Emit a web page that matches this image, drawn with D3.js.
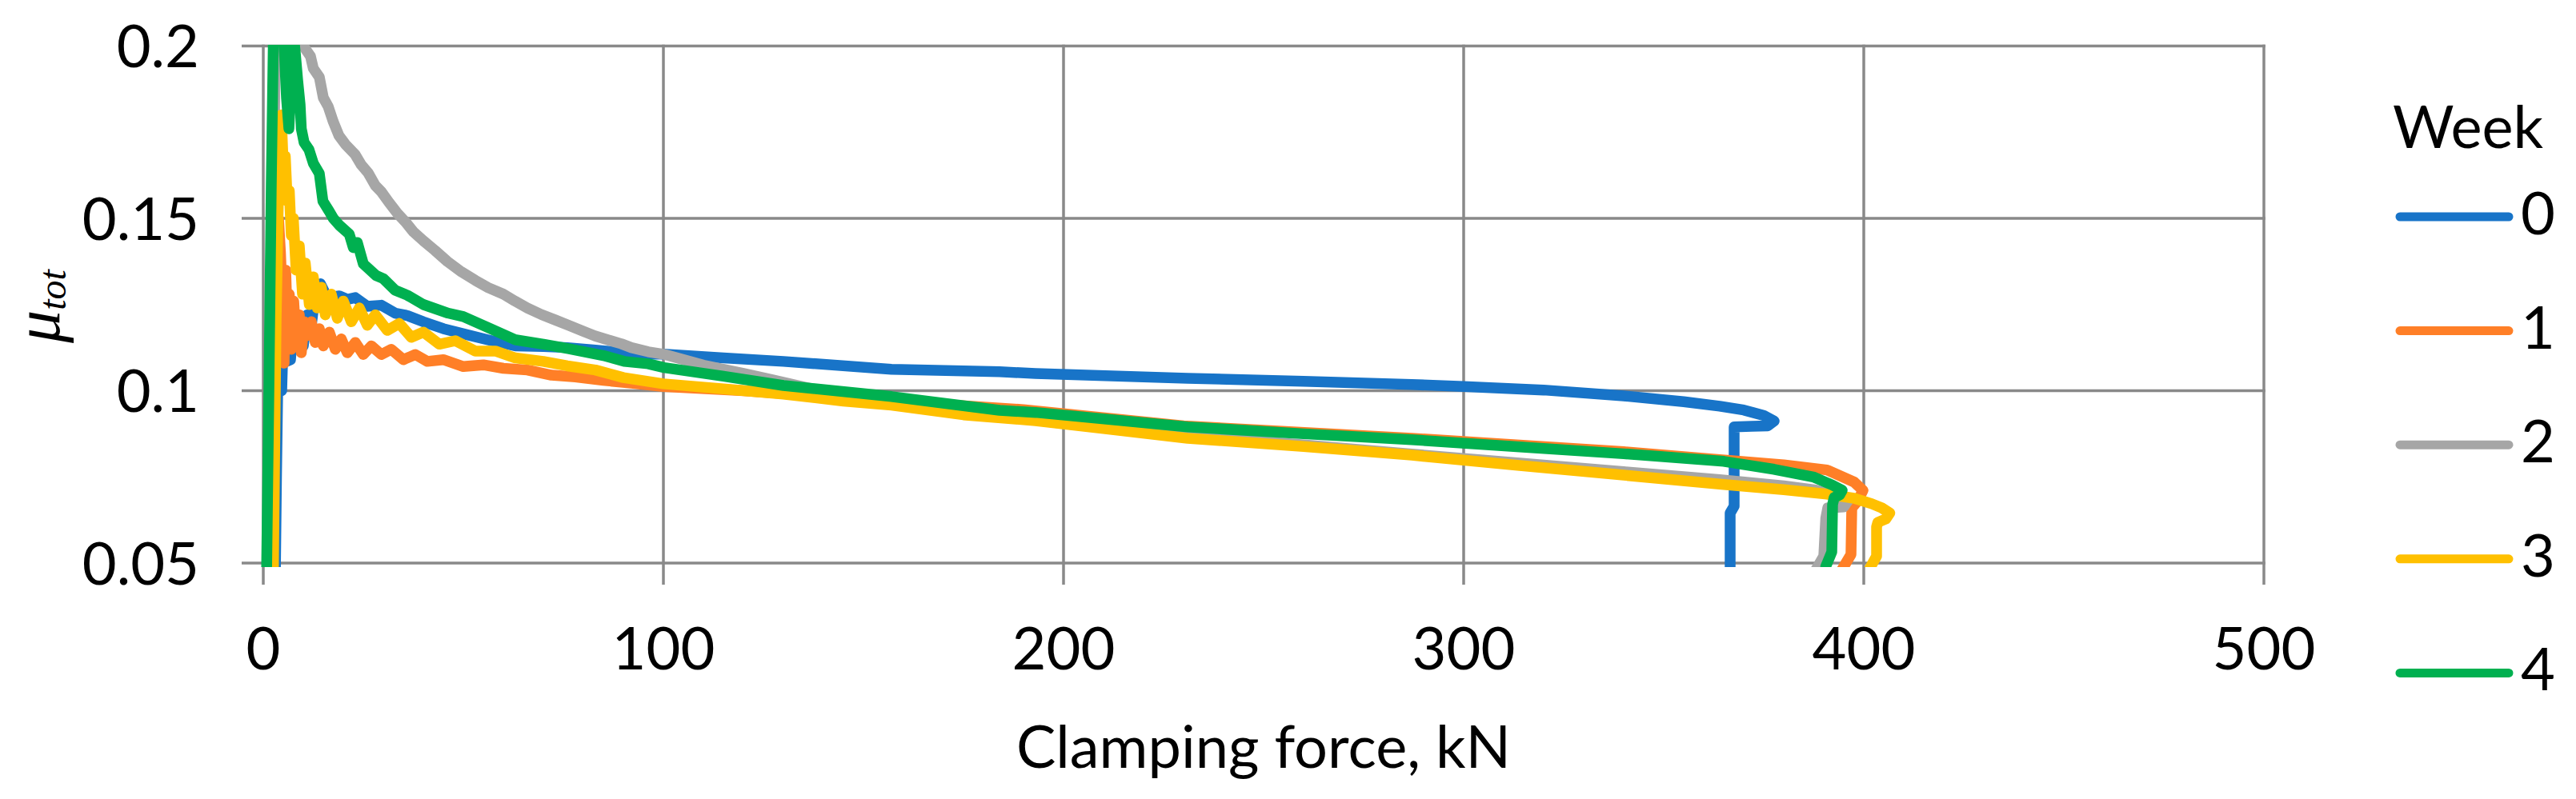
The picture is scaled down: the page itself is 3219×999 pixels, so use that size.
<!DOCTYPE html>
<html>
<head>
<meta charset="utf-8">
<script src="https://cdn.jsdelivr.net/npm/d3@7"></script>
<style>
  html, body { margin: 0; padding: 0; background: #ffffff; }
  svg { display: block; }
  text { font-family: Lato, "Open Sans", "Liberation Sans", sans-serif; fill: #000; }
</style>
</head>
<body>
<svg id="chart" width="3219" height="999"></svg>
<script>
// ---------------- data ----------------
const weekNames = ["0", "1", "2", "3", "4"];
const xTicks = [0, 100, 200, 300, 400, 500];
const yTicks = [0.05, 0.1, 0.15, 0.2];
const yTickLabels = ["0.05", "0.1", "0.15", "0.2"];
const xTitle = "Clamping force, kN";
const legendTitle = "Week";

// [clamping force kN, mu_tot]
const week0 = [
  [3.0,0.045],[3.3,0.075],[3.6,0.1],[4.6,0.1],[4.8,0.108],[6.8,0.109],[7.2,0.115],[8,0.112],
  [9,0.118],[10,0.113],[11,0.122],[12,0.119],[13,0.128],[14.3,0.131],[16,0.127],[19,0.1275],
  [21,0.1265],[23,0.127],[26,0.1245],[29.5,0.1248],[33,0.1225],[36,0.1218],[40,0.12],[45,0.118],
  [50,0.1165],[56,0.1148],[63,0.113],[70,0.1128],[76,0.1125],[83,0.1118],[90,0.111],[96,0.1106],
  [100,0.1106],[115,0.1095],[130,0.1085],[157,0.1062],[184,0.1055],[193,0.105],[231,0.1036],
  [260,0.1027],[287,0.1018],[300,0.1012],[320,0.1002],[340,0.0985],[355,0.0968],[364,0.0955],
  [370,0.0944],[375,0.0928],[377.6,0.0912],[376,0.0898],[372,0.0897],[367.6,0.0895],
  [367.6,0.0665],[366.6,0.0645],[366.6,0.045]
];
const week1 = [
  [2.0,0.045],[2.6,0.09],[3.2,0.13],[3.8,0.15],[4.3,0.14],[4.8,0.125],[5.2,0.108],[5.6,0.135],
  [6.0,0.12],[6.5,0.128],[7.0,0.112],[7.6,0.126],[8.2,0.115],[9.0,0.122],[9.5,0.111],[10.2,0.12],
  [11,0.116],[12,0.12],[13,0.114],[14,0.118],[15,0.113],[16.5,0.117],[18,0.112],[19.5,0.115],
  [21,0.111],[23,0.114],[25,0.1105],[27,0.113],[29.5,0.1105],[32,0.112],[35,0.109],[38,0.1105],
  [41,0.1085],[45,0.109],[50,0.107],[55,0.1075],[60,0.1065],[66,0.106],[72,0.1045],[78,0.104],
  [85,0.103],[92,0.1022],[100,0.1012],[120,0.1],[150,0.0975],[190,0.0945],[230,0.0898],
  [287,0.0862],[314,0.0842],[340,0.0823],[364,0.08],[380,0.0785],[390.8,0.077],[397.6,0.0735],
  [399.8,0.0711],[398.5,0.068],[397,0.066],[396.8,0.0525],[394.5,0.048],[394.5,0.045]
];
const week2 = [
  [1.5,0.045],[2.2,0.12],[3,0.2],[4,0.215],[6,0.21],[8,0.201],[10,0.2],[11.8,0.197],[12.5,0.1935],[14,0.191],
  [15,0.185],[16.2,0.1825],[17.5,0.178],[18.9,0.174],[20.5,0.1715],[22.9,0.1686],[24.5,0.1655],
  [26.2,0.1632],[28,0.1595],[29.5,0.1577],[31.5,0.1545],[33.5,0.1515],[35.5,0.149],[37.5,0.1461],
  [40,0.1435],[42.9,0.1407],[46,0.1375],[49.5,0.1345],[53,0.132],[56.2,0.1299],[60,0.128],
  [62.9,0.126],[66,0.124],[69.5,0.1221],[73,0.1205],[76.2,0.119],[80,0.1172],[82.9,0.1159],
  [86,0.1148],[89.5,0.1136],[92,0.1125],[96.2,0.1113],[100,0.1106],[110,0.1074],[120,0.105],
  [127,0.1032],[140,0.0998],[157,0.097],[184,0.0928],[200,0.0905],[231,0.0870],[260,0.0843],
  [287,0.0816],[314,0.0790],[340,0.0765],[364,0.0742],[380,0.0724],[388,0.0712],[393,0.0695],
  [396,0.068],[395,0.0663],[391,0.066],[390.5,0.063],[390,0.052],[388,0.048],[387.8,0.045]
];
const week3 = [
  [2.5,0.045],[3.2,0.12],[4.0,0.17],[4.5,0.18],[5.0,0.165],[5.5,0.168],[6.0,0.155],[6.5,0.158],
  [7.0,0.145],[7.5,0.15],[8.2,0.135],[9,0.142],[9.8,0.128],[10.5,0.137],[11.5,0.125],[12.5,0.133],
  [13.5,0.124],[14.5,0.13],[15.5,0.122],[17,0.128],[18.5,0.121],[20,0.126],[22,0.12],[24,0.124],
  [26,0.119],[28,0.122],[31,0.1175],[34,0.1195],[37,0.1155],[40,0.117],[44,0.1135],[48,0.1145],
  [53,0.1115],[58,0.1115],[63,0.1095],[70,0.1085],[76,0.1072],[83,0.106],[90,0.1038],[100,0.102],
  [115,0.1005],[130,0.099],[145,0.097],[157,0.0958],[175,0.093],[193,0.0913],[210,0.089],
  [231,0.0862],[260,0.0838],[287,0.0813],[314,0.0783],[340,0.0755],[365,0.0728],[380,0.0713],
  [390.8,0.07],[397.6,0.0688],[402,0.0672],[404.5,0.066],[406.5,0.0645],[405.5,0.0628],
  [403.5,0.0618],[403.2,0.0605],[403.2,0.052],[401.5,0.0485],[401,0.045]
];
const week4 = [
  [0.8,0.045],[1.4,0.1],[2.0,0.16],[2.5,0.2],[3.0,0.215],[4.5,0.22],[5.2,0.2],[5.8,0.185],
  [6.4,0.176],[7.0,0.19],[7.4,0.205],[8.0,0.198],[8.6,0.19],[9.2,0.183],[9.5,0.176],[10.2,0.172],
  [11.4,0.17],[12.5,0.166],[14,0.163],
  [14.9,0.155],[16.5,0.152],[17.5,0.15],[19,0.148],[21.5,0.1454],[22.5,0.1415],[23.5,0.143],
  [25,0.1368],[28.2,0.1334],[30,0.1325],[32.9,0.1292],[36,0.1277],[40,0.125],[46.2,0.1225],
  [50,0.1215],[56.2,0.1183],[62.9,0.1148],[70,0.1135],[76.2,0.1122],[85,0.1102],[90.2,0.1085],
  [96.2,0.1078],[100.2,0.1067],[115,0.1042],[130,0.1015],[157,0.0983],[184,0.0943],[193,0.0937],
  [231,0.0895],[260,0.0875],[287,0.0858],[314,0.0837],[340,0.0817],[365,0.0795],[377.6,0.0772],
  [387.6,0.0749],[392.2,0.0726],[394.6,0.0711],[394,0.0698],[392.6,0.069],[392.2,0.067],
  [392,0.0532],[390.5,0.049],[390.2,0.045]
];
const seriesData = [week0, week1, week2, week3, week4];
const seriesColors = ["#1874C8", "#FF7F27", "#A6A6A6", "#FFC000", "#00B050"];

// ---------------- layout ----------------
const svg = d3.select("#chart");
svg.append("rect").attr("width", 3219).attr("height", 999).attr("fill", "#fff");

const x = d3.scaleLinear().domain([0, 500]).range([329, 2829]);
const y = d3.scaleLinear().domain([0.05, 0.2]).range([704, 57.5]);
const gridColor = "#898989";
const gridW = 3.5;

// horizontal gridlines (with left tick stubs)
svg.append("g").selectAll("line").data(yTicks).join("line")
  .attr("x1", 302).attr("x2", x(500) + gridW / 2)
  .attr("y1", d => y(d)).attr("y2", d => y(d))
  .attr("stroke", gridColor).attr("stroke-width", gridW);

// vertical gridlines (with bottom tick stubs)
svg.append("g").selectAll("line").data(xTicks).join("line")
  .attr("x1", d => x(d)).attr("x2", d => x(d))
  .attr("y1", y(0.2) - gridW / 2).attr("y2", 731)
  .attr("stroke", gridColor).attr("stroke-width", gridW);

// y tick labels
svg.append("g").selectAll("text").data(yTicks).join("text")
  .attr("x", 249).attr("y", d => y(d) + 26.5)
  .attr("text-anchor", "end").attr("font-size", 74)
  .text((d, i) => yTickLabels[i]);

// x tick labels
svg.append("g").selectAll("text").data(xTicks).join("text")
  .attr("x", d => x(d)).attr("y", 837)
  .attr("text-anchor", "middle").attr("font-size", 74)
  .text(d => d);

// x title
svg.append("text").attr("x", (x(0) + x(500)) / 2).attr("y", 960)
  .attr("text-anchor", "middle").attr("font-size", 74).text(xTitle);

// y title  mu_tot
const yt = svg.append("text")
  .attr("transform", "translate(74,383) rotate(-90)")
  .attr("text-anchor", "middle")
  .style("font-family", "'Liberation Serif', 'DejaVu Serif', serif")
  .style("font-style", "italic");
yt.append("tspan").attr("font-size", 82).text("\u03BC");
yt.append("tspan").attr("font-size", 48).attr("dy", 8).text("tot");

// series
svg.append("clipPath").attr("id", "plotclip").append("rect")
  .attr("x", 318).attr("y", 56).attr("width", 2530).attr("height", 653);

const line = d3.line().x(d => x(d[0])).y(d => y(d[1]));
svg.append("g").attr("clip-path", "url(#plotclip)")
  .selectAll("path").data(seriesData).join("path")
  .attr("d", line)
  .attr("fill", "none")
  .attr("stroke", (d, i) => seriesColors[i])
  .attr("stroke-width", 13.5)
  .attr("stroke-linejoin", "round")
  .attr("stroke-linecap", "butt");

// legend
svg.append("text").attr("x", 2990).attr("y", 185).attr("font-size", 74).text(legendTitle);
const lg = svg.append("g").selectAll("g").data(weekNames).join("g")
  .attr("transform", (d, i) => `translate(0, ${271 + i * 142.6})`);
lg.append("line").attr("x1", 2999).attr("x2", 3135).attr("y1", 0).attr("y2", 0)
  .attr("stroke", (d, i) => seriesColors[i]).attr("stroke-width", 11)
  .attr("stroke-linecap", "round");
lg.append("text").attr("x", 3150).attr("y", 22).attr("font-size", 74).text(d => d);
</script>
</body>
</html>
